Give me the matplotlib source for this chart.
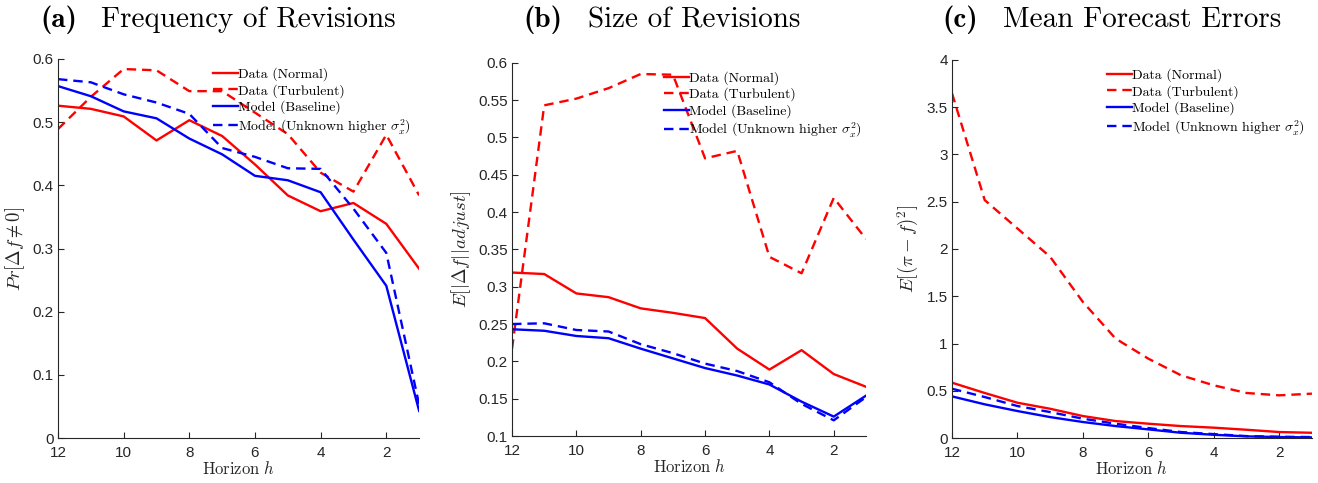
import matplotlib
matplotlib.use("Agg")
import matplotlib.pyplot as plt
from matplotlib.ticker import FuncFormatter
import numpy as np

plt.rcParams['mathtext.fontset'] = 'cm'

# horizons (months before target)
horizon = [12, 11, 10, 9, 8, 7, 6, 5, 4, 3, 2, 1]

# (a) frequency of revisions
freq_normal = [0.526, 0.521, 0.509, 0.471, 0.503, 0.478, 0.433, 0.384, 0.359, 0.372, 0.339, 0.268]
freq_turb = [0.489, 0.540, 0.584, 0.582, 0.549, 0.549, 0.515, 0.481, 0.420, 0.390, 0.480, 0.384]
freq_base = [0.557, 0.541, 0.517, 0.506, 0.474, 0.449, 0.415, 0.408, 0.389, 0.314, 0.241, 0.043]
freq_unk = [0.568, 0.563, 0.544, 0.531, 0.513, 0.459, 0.445, 0.427, 0.426, 0.363, 0.293, 0.053]

# (b) size of revisions
size_normal = [0.319, 0.317, 0.291, 0.286, 0.271, 0.265, 0.258, 0.217, 0.189, 0.215, 0.183, 0.166]
size_turb = [0.217, 0.543, 0.552, 0.566, 0.585, 0.584, 0.472, 0.482, 0.340, 0.318, 0.419, 0.364]
size_base = [0.243, 0.241, 0.234, 0.231, 0.217, 0.204, 0.191, 0.181, 0.169, 0.146, 0.126, 0.154]
size_unk = [0.250, 0.251, 0.242, 0.240, 0.223, 0.211, 0.197, 0.187, 0.172, 0.143, 0.121, 0.152]

# (c) mean forecast errors
err_normal = [0.586, 0.477, 0.374, 0.310, 0.233, 0.180, 0.152, 0.127, 0.110, 0.088, 0.064, 0.056]
err_turb = [3.647, 2.517, 2.217, 1.917, 1.440, 1.052, 0.840, 0.664, 0.558, 0.477, 0.452, 0.470]
err_base = [0.441, 0.357, 0.286, 0.222, 0.170, 0.127, 0.092, 0.056, 0.035, 0.018, 0.011, 0.007]
err_unk = [0.522, 0.434, 0.339, 0.275, 0.205, 0.152, 0.106, 0.064, 0.042, 0.021, 0.014, 0.011]

labels = ['Data (Normal)', 'Data (Turbulent)', 'Model (Baseline)',
          r'Model (Unknown higher $\sigma_x^2$)']
tags = ['(a)', '(b)', '(c)']
titles = ['Frequency of Revisions', 'Size of Revisions', 'Mean Forecast Errors']
tag_x = [40, 523, 942]       # pixel position of the panel tag
title_px = [101, 588, 1003]  # pixel position of the title text
ylabels = [r'$Pr[\Delta f \neq 0]$', r'$E[|\Delta f| | adjust]$', r'$E[(\pi - f)^2]$']
ylims = [(0, 0.6), (0.1, 0.6), (0, 4)]
yticks = [np.arange(0, 0.61, 0.1), np.arange(0.1, 0.61, 0.05), np.arange(0, 4.01, 0.5)]
panels = [(freq_normal, freq_turb, freq_base, freq_unk),
          (size_normal, size_turb, size_base, size_unk),
          (err_normal, err_turb, err_base, err_unk)]
positions = [[0.044, 0.093, 0.274, 0.785],
             [0.3885, 0.0973, 0.2685, 0.7727],
             [0.7223, 0.093, 0.2731, 0.783]]

W, H = 1318, 483
axcol = '#262626'
fig = plt.figure(figsize=(W / 100, H / 100), dpi=100)

for k in range(3):
    ax = fig.add_axes(positions[k])
    dn, dt, mb, mu = panels[k]
    ax.plot(horizon, dn, color='#ff0000', lw=1.7, label=labels[0])
    ax.plot(horizon, dt, color='#ff0000', lw=1.7, ls=(0, (4, 2.5)), label=labels[1])
    ax.plot(horizon, mb, color='#0000ff', lw=1.7, label=labels[2])
    ax.plot(horizon, mu, color='#0000ff', lw=1.7, ls=(0, (4, 2.5)), label=labels[3])

    ax.set_xlim(12, 1)
    ax.set_ylim(*ylims[k])
    ax.set_xticks([12, 10, 8, 6, 4, 2])
    ax.set_yticks(yticks[k])
    ax.yaxis.set_major_formatter(FuncFormatter(lambda v, p: '%g' % round(v, 2)))
    for s in ['top', 'right']:
        ax.spines[s].set_visible(False)
    for s in ['left', 'bottom']:
        ax.spines[s].set_color(axcol)
        ax.spines[s].set_linewidth(0.8)
    ax.tick_params(direction='in', length=4, width=0.8, colors=axcol, labelsize=11)
    ax.tick_params(axis='x', pad=6)
    ax.tick_params(axis='y', pad=3)
    for t in ax.get_xticklabels() + ax.get_yticklabels():
        t.set_fontfamily('Liberation Sans')

    ax.set_xlabel(r'$\mathrm{Horizon}\ h$', fontsize=12, color=axcol, labelpad=0)
    ax.set_ylabel(ylabels[k], fontsize=13.5, color=axcol, labelpad=4)

    # panel title: bold tag + roman text
    yb = 1 - 27 / H
    fig.text(tag_x[k] / W, yb, tags[k], fontsize=21, family='cmb10', va='baseline')
    fig.text(title_px[k] / W, yb, titles[k], fontsize=21, family='cmr10', va='baseline')

    ax.legend(loc='upper left', bbox_to_anchor=(0.43, 0.978), frameon=False,
              prop={'family': 'cmr10', 'size': 10}, handlelength=1.8,
              handletextpad=0.0, labelspacing=0.2, borderpad=0, borderaxespad=0)

fig.savefig('out.png', dpi=100)
